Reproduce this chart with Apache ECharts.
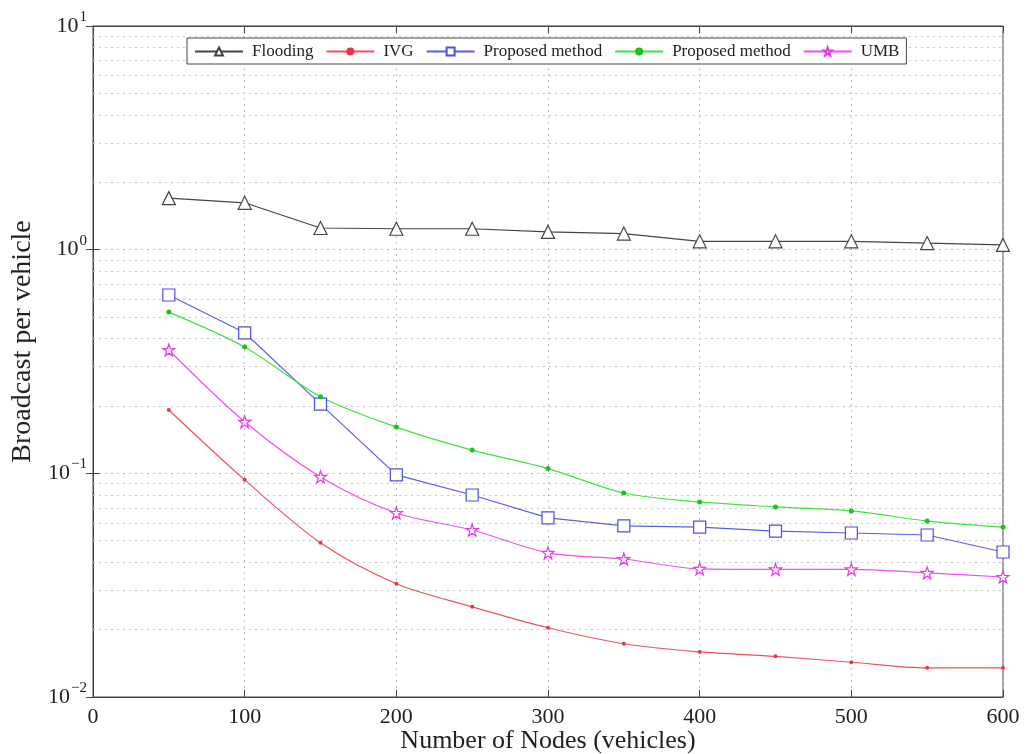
<!DOCTYPE html>
<html>
<head>
<meta charset="utf-8">
<script src="https://cdn.jsdelivr.net/npm/echarts@6/dist/echarts.min.js"></script>
<style>
html,body{margin:0;padding:0;background:#fff;}
#chart{width:1026px;height:754px;}
</style>
</head>
<body>
<div id="chart"></div>
<script>
// Number of vehicles on the road (x axis)
const nodes = [50, 100, 150, 200, 250, 300, 350, 400, 450, 500, 550, 600];

// Broadcasts per vehicle for each scheme
const flooding  = [1.70, 1.62, 1.25, 1.24, 1.24, 1.20, 1.18, 1.09, 1.09, 1.09, 1.07, 1.05];
const ivg       = [0.192, 0.0935, 0.0489, 0.0321, 0.0253, 0.0204, 0.0173, 0.0159, 0.0152, 0.0143, 0.0135, 0.0135];
const proposedA = [0.627, 0.425, 0.204, 0.0984, 0.080, 0.0632, 0.0582, 0.0575, 0.0552, 0.0541, 0.0530, 0.0445];
const proposedB = [0.526, 0.367, 0.220, 0.161, 0.127, 0.105, 0.0817, 0.0745, 0.0708, 0.0679, 0.0612, 0.0575];
const umb       = [0.356, 0.170, 0.0964, 0.0665, 0.0558, 0.0441, 0.0414, 0.0374, 0.0372, 0.0372, 0.0359, 0.0344];

const seriesNames = ['Flooding', 'IVG', 'Proposed method', 'Proposed method ', 'UMB'];
const xTicks = [0, 100, 200, 300, 400, 500, 600];

const pair = arr => nodes.map((n, i) => [n, arr[i]]);

// minor log grid lines (2..9 within each decade)
const minorGrid = [];
[0.01, 0.1, 1].forEach(d => { for (let k = 2; k <= 9; k++) minorGrid.push({ yAxis: +(d * k).toPrecision(3) }); });

const serif = 'Liberation Serif';
const star = 'path://M50,2 L61,36 L97,36 L68,57 L79,92 L50,71 L21,92 L32,57 L3,36 L39,36 Z';

const supLabel = v => {
  const e = Math.round(Math.log10(v));
  return '{b|10}{s|' + (e < 0 ? '\u2212' + (-e) : e) + '}';
};
const richSup = {
  b: { fontSize: 22, fontFamily: serif, color: '#222' },
  s: { fontSize: 15, fontFamily: serif, color: '#222', padding: [0, 0, 18, 1] }
};

const chart = echarts.init(document.getElementById('chart'));
chart.setOption({
  backgroundColor: '#fff',
  animation: false,
  grid: { left: 93, right: 23, top: 26, bottom: 57, show: true, borderColor: '#444', borderWidth: 1,
    containLabel: false, outerBoundsMode: 'none' },
  legend: {
    data: seriesNames,
    left: 187, top: 38,
    padding: [5, 7, 4, 7],
    itemGap: 12,
    itemWidth: 48, itemHeight: 10,
    backgroundColor: '#fff',
    borderColor: '#444', borderWidth: 1, borderRadius: 0,
    textStyle: { fontFamily: serif, fontSize: 17, color: '#222', padding: [0, 0, 0, 4] },
    formatter: n => n.trim()
  },
  xAxis: [{
    type: 'value', min: 0, max: 600, interval: 100,
    name: 'Number of Nodes (vehicles)', nameLocation: 'middle', nameGap: 31, nameMoveOverlap: false,
    nameTextStyle: { fontFamily: serif, fontSize: 26, color: '#222' },
    axisLine: { show: true, lineStyle: { color: '#444' } },
    axisTick: { show: true, inside: true, length: 7, lineStyle: { color: '#444' } },
    axisLabel: { fontFamily: serif, fontSize: 22, color: '#222', margin: 9,
      formatter: v => xTicks.includes(v) ? String(v) : '' },
    splitLine: { show: true, lineStyle: { type: [2, 4], color: '#bbb' } }
  }, {
    type: 'value', position: 'top', min: 0, max: 600, interval: 100,
    axisLine: { show: true, lineStyle: { color: '#444' } },
    axisTick: { show: true, inside: true, length: 7, lineStyle: { color: '#444' } },
    axisLabel: { show: false }, splitLine: { show: false }
  }],
  yAxis: [{
    type: 'log', logBase: 10, min: 0.01, max: 10,
    name: 'Broadcast per vehicle', nameLocation: 'middle', nameGap: 56, nameMoveOverlap: false,
    nameTextStyle: { fontFamily: serif, fontSize: 28, color: '#222', padding: [0, 0, 0, 40] },
    axisLine: { show: true, lineStyle: { color: '#444' } },
    axisTick: { show: true, inside: true, length: 7, lineStyle: { color: '#444' } },
    axisLabel: { formatter: supLabel, rich: richSup, margin: 6 },
    splitLine: { show: true, lineStyle: { type: [2, 4], color: '#bbb' } }
  }, {
    type: 'log', logBase: 10, min: 0.01, max: 10, position: 'right',
    axisLine: { show: true, lineStyle: { color: '#444' } },
    axisTick: { show: true, inside: true, length: 7, lineStyle: { color: '#444' } },
    axisLabel: { show: false }, splitLine: { show: false }
  }],
  series: [{
    name: seriesNames[0], type: 'line', data: pair(flooding),
    symbol: 'triangle', symbolSize: 13, z: 5,
    itemStyle: { color: '#fff', borderColor: '#444', borderWidth: 1.2 },
    lineStyle: { color: '#444', width: 1.2 },
    markLine: {
      silent: true, symbol: ['none', 'none'], label: { show: false }, z: 1,
      lineStyle: { type: [2, 4], color: '#c4c4c4', width: 1 },
      data: minorGrid
    }
  }, {
    name: seriesNames[1], type: 'line', data: pair(ivg), smooth: 0.3,
    symbol: 'circle', symbolSize: 4,
    itemStyle: { color: '#e8344a' },
    lineStyle: { color: '#f0505e', width: 1.2 }
  }, {
    name: seriesNames[2], type: 'line', data: pair(proposedA),
    symbol: 'rect', symbolSize: 12,
    itemStyle: { color: '#fff', borderColor: '#4b4fe0', borderWidth: 1.2 },
    lineStyle: { color: '#5a5ee0', width: 1.2 }
  }, {
    name: seriesNames[3], type: 'line', data: pair(proposedB), smooth: 0.3,
    symbol: 'circle', symbolSize: 5,
    itemStyle: { color: '#19c41c' },
    lineStyle: { color: '#3ee33e', width: 1.2 }
  }, {
    name: seriesNames[4], type: 'line', data: pair(umb), smooth: 0.3,
    symbol: star, symbolSize: 12,
    itemStyle: { color: '#fff', borderColor: '#e63be6', borderWidth: 1.2 },
    lineStyle: { color: '#ee4eee', width: 1.2 }
  }]
});
</script>
</body>
</html>
